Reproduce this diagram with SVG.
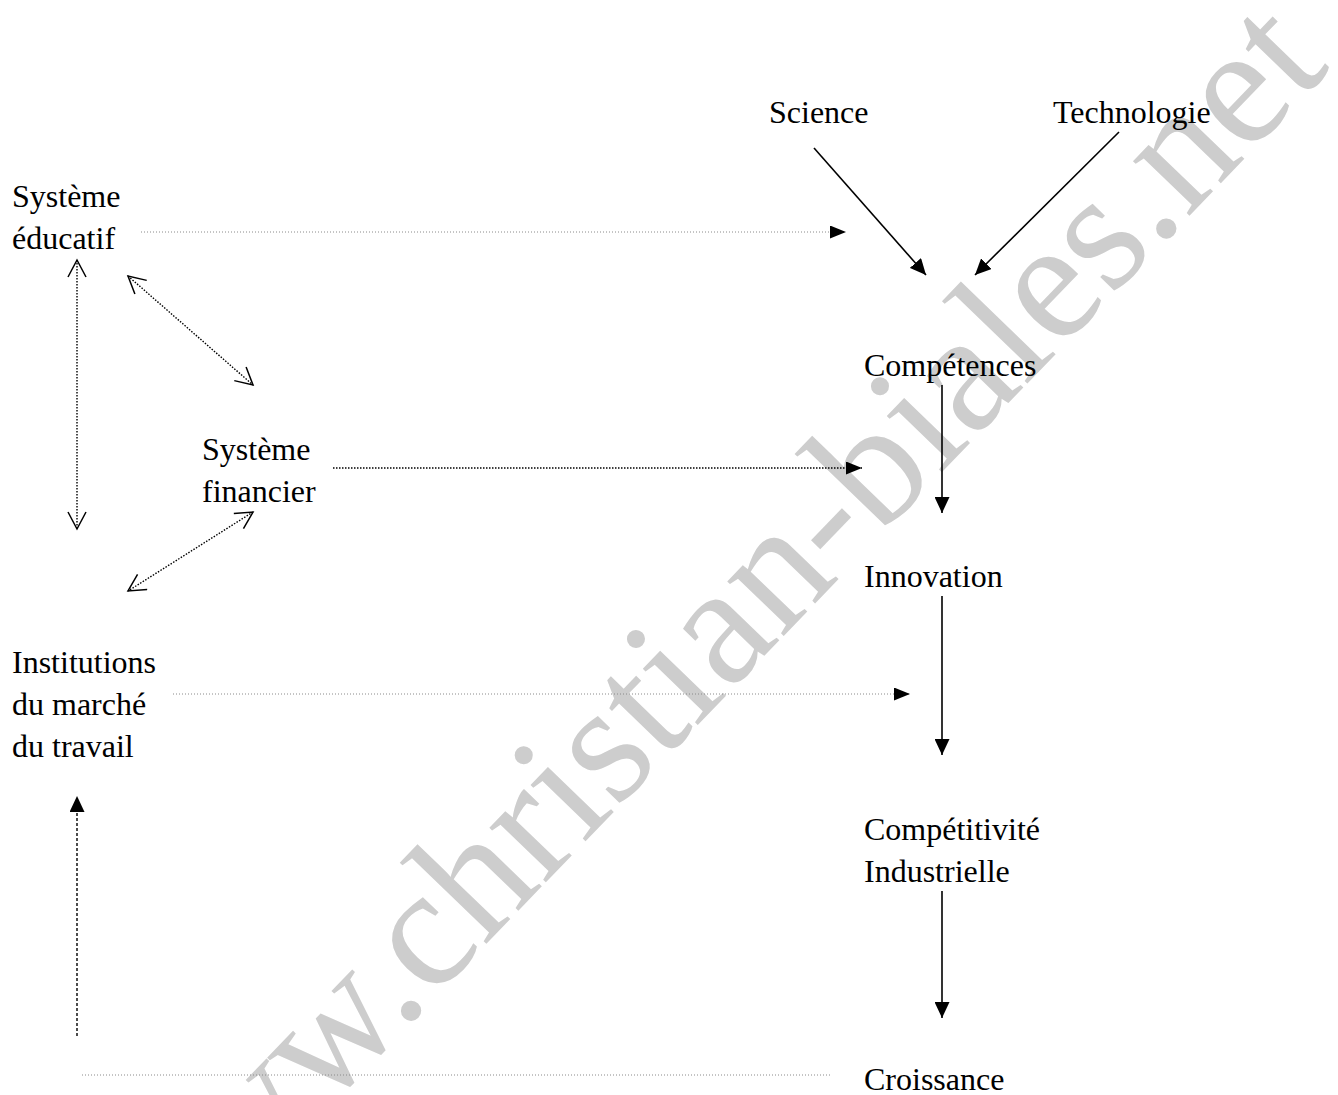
<svg xmlns="http://www.w3.org/2000/svg" width="1338" height="1095" viewBox="0 0 1338 1095">
<style>
  text { font-family: "Liberation Serif", "Times New Roman", serif; font-size: 32px; fill: #000; }
  .wm { font-family: "Liberation Serif", serif; font-size: 171px; fill: #cdcdcd; }
  .solid { stroke: #000; stroke-width: 1.6; fill: none; }
  .greydot { stroke: #8a8a8a; stroke-width: 1; stroke-dasharray: 1 2; fill: none; }
  .blackdot { stroke: #000; stroke-width: 1.4; stroke-dasharray: 1.5 1.5; fill: none; }
  .dash { stroke: #000; stroke-width: 1.4; stroke-dasharray: 3 2; fill: none; }
</style>
<defs>
  <marker id="fill" markerUnits="userSpaceOnUse" markerWidth="16" markerHeight="15" refX="16" refY="7.5" orient="auto">
    <path d="M0,0 L16,7.5 L0,15 z" fill="#000"/>
  </marker>
  <marker id="fillsm" markerUnits="userSpaceOnUse" markerWidth="16" markerHeight="13" refX="16" refY="6.5" orient="auto">
    <path d="M0,0 L16,6.5 L0,13 z" fill="#000"/>
  </marker>
  <marker id="open" markerUnits="userSpaceOnUse" markerWidth="20" markerHeight="22" refX="18" refY="10" orient="auto-start-reverse">
    <path d="M1,1 L18,10 L1,19" fill="none" stroke="#000" stroke-width="1.5"/>
  </marker>
</defs>

<rect width="1338" height="1095" fill="#fff"/>

<text class="wm" transform="translate(152,1290) rotate(-46)">www.christian-biales.net</text>

<g id="connectors">
  <line class="solid" x1="814" y1="148" x2="926" y2="275" marker-end="url(#fill)"/>
  <line class="solid" x1="1119" y1="132" x2="975" y2="275" marker-end="url(#fill)"/>
  <line class="solid" x1="942" y1="385" x2="942" y2="513" marker-end="url(#fill)"/>
  <line class="solid" x1="942" y1="596" x2="942" y2="755" marker-end="url(#fill)"/>
  <line class="solid" x1="942" y1="891" x2="942" y2="1018" marker-end="url(#fill)"/>
  <line class="greydot" x1="141" y1="232" x2="846" y2="232" marker-end="url(#fillsm)"/>
  <line class="blackdot" x1="333" y1="468" x2="862" y2="468" marker-end="url(#fillsm)"/>
  <line class="greydot" x1="173" y1="694" x2="910" y2="694" marker-end="url(#fillsm)"/>
  <line class="greydot" x1="82" y1="1075" x2="830" y2="1075"/>
  <line class="blackdot" x1="77" y1="260" x2="77" y2="529" marker-start="url(#open)" marker-end="url(#open)"/>
  <line class="blackdot" x1="128" y1="276" x2="253" y2="385" marker-start="url(#open)" marker-end="url(#open)"/>
  <line class="blackdot" x1="253" y1="512" x2="128" y2="591" marker-start="url(#open)" marker-end="url(#open)"/>
  <line class="dash" x1="77" y1="1036" x2="77" y2="796" marker-end="url(#fill)"/>
</g>

<g id="node-science"><text x="769" y="123">Science</text></g>
<g id="node-technologie"><text x="1053" y="123">Technologie</text></g>
<g id="node-educatif"><text x="12" y="207">Système</text><text x="12" y="249">éducatif</text></g>
<g id="node-financier"><text x="202" y="460">Système</text><text x="202" y="502">financier</text></g>
<g id="node-institutions"><text x="12" y="673">Institutions</text><text x="12" y="715">du marché</text><text x="12" y="757">du travail</text></g>
<g id="node-competences"><text x="864" y="376">Compétences</text></g>
<g id="node-innovation"><text x="864" y="587">Innovation</text></g>
<g id="node-competitivite"><text x="864" y="840">Compétitivité</text><text x="864" y="882">Industrielle</text></g>
<g id="node-croissance"><text x="864" y="1090">Croissance</text></g>
</svg>
